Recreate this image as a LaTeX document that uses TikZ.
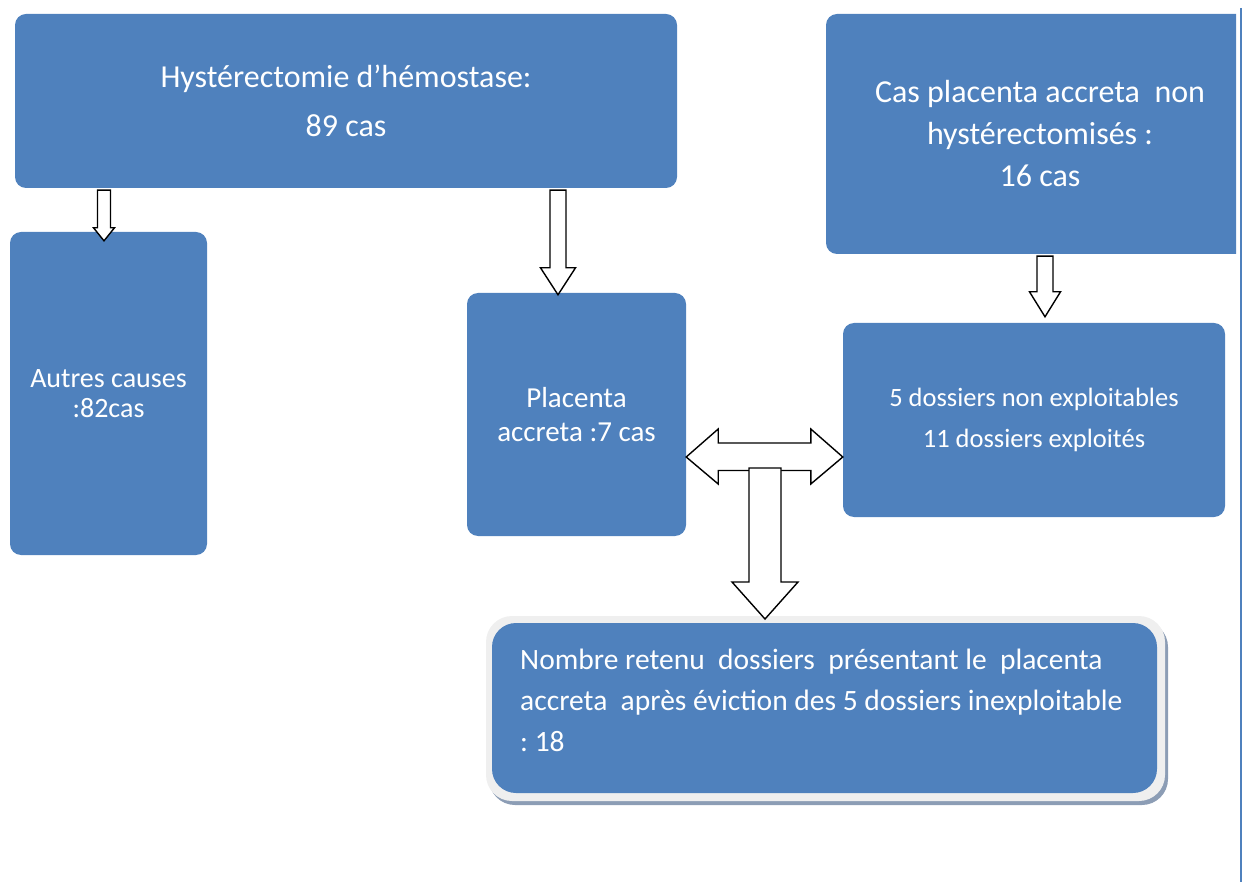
\documentclass[tikz,border=0pt]{standalone}
\usepackage{fontspec}
\setmainfont{Carlito}
\usetikzlibrary{calc}
\definecolor{boxblue}{HTML}{4F81BD}
\definecolor{framegray}{HTML}{EFEFEF}
\definecolor{shadowgray}{HTML}{8C9DB5}
\newcommand\dnarrow[7]{%
  \draw[blockarrow] let \p1=(#2), \p2=(#3) in
    (#1pt-#4pt,\y1-2pt) -- (#1pt+#4pt,\y1-2pt) -- (#1pt+#4pt,\y2-#7pt+#6pt)
    -- (#1pt+#5pt,\y2-#7pt+#6pt) -- (#1pt,\y2-#7pt) -- (#1pt-#5pt,\y2-#7pt+#6pt)
    -- (#1pt-#4pt,\y2-#7pt+#6pt) -- cycle;}
\begin{document}
\begin{tikzpicture}[x=1pt,y=-1pt,
  box/.style={fill=boxblue, rounded corners=11pt, text=white, align=center, inner sep=0pt},
  blockarrow/.style={draw=black, fill=white, line width=1.4pt, line join=miter}]
\useasboundingbox (0,0) rectangle (1243,882);

% boxes
\node[box, minimum width=662pt, minimum height=174pt, font=\fontsize{32}{49}\selectfont]
  (hyst) at (346,101) {Hystérectomie d’hémostase:\\89 cas};
\begin{scope}
  \clip (800,0) rectangle (1236,300);
  \node[box, minimum width=428pt, minimum height=240pt, font=\fontsize{32}{42}\selectfont]
    (cas) at (1040,134) {Cas placenta accreta\ \ non\\hystérectomisés :\\16 cas};
\end{scope}
\node[box, minimum width=197pt, minimum height=323pt, font=\fontsize{28}{30}\selectfont]
  (autres) at (108.5,393.5) {Autres causes\\:82cas};
\node[box, minimum width=219pt, minimum height=243pt, font=\fontsize{29}{34}\selectfont]
  (placenta) at (576.5,414.5) {Placenta\\accreta :7 cas};
\node[box, minimum width=382pt, minimum height=194pt, font=\fontsize{26.5}{41}\selectfont]
  (dossiers) at (1034,420) {5 dossiers non exploitables\\11 dossiers exploités};

% final box with frame and shadow
\fill[shadowgray, rounded corners=26pt] (489,621) rectangle (1168,805);
\fill[framegray, rounded corners=26pt] (486,616) rectangle (1165,801);
\node[box, rounded corners=24pt, minimum width=665pt, minimum height=170pt]
  (final) at (824.5,708) {};
\node[anchor=north west, inner sep=0pt, text=white, align=left,
  font=\fontsize{29.5}{41}\selectfont] (finaltext) at (520,649)
  {Nombre retenu\ \ dossiers\ \ présentant le\ \ placenta\\accreta\ \ après éviction des 5 dossiers inexploitable\\:~18};

% right border line
\draw[boxblue, line width=2pt] (1241,8) -- (1241,882);

% block arrows
\dnarrow{104}{hyst.south}{autres.north}{6.5}{10.5}{13}{9}
\dnarrow{558}{hyst.south}{placenta.north}{8}{17.5}{27}{2}
\dnarrow{1045}{cas.south}{dossiers.north}{8}{15.5}{25}{-6}

% double arrow between placenta and dossiers
\draw[blockarrow] let \p1=(placenta.east), \p2=(dossiers.west) in
  (\x1,-457pt) -- (\x1+32pt,-429pt) -- (\x1+32pt,-443pt) -- (\x2-32pt,-443pt)
  -- (\x2-32pt,-429pt) -- (\x2,-457pt) -- (\x2-32pt,-484pt) -- (\x2-32pt,-470.5pt)
  -- (\x1+32pt,-470.5pt) -- (\x1+32pt,-484pt) -- cycle;
\coordinate (junction) at (765,468);
% down arrow to final box
\draw[blockarrow] let \p1=(junction), \p2=(final.north) in
  (\x1-16pt,\y1) -- (\x1+16pt,\y1) -- (\x1+16pt,-582pt) -- (\x1+33pt,-582pt)
  -- (\x1,-619pt) -- (\x1-33pt,-582pt) -- (\x1-16pt,-582pt) -- cycle;
\end{tikzpicture}
\end{document}
